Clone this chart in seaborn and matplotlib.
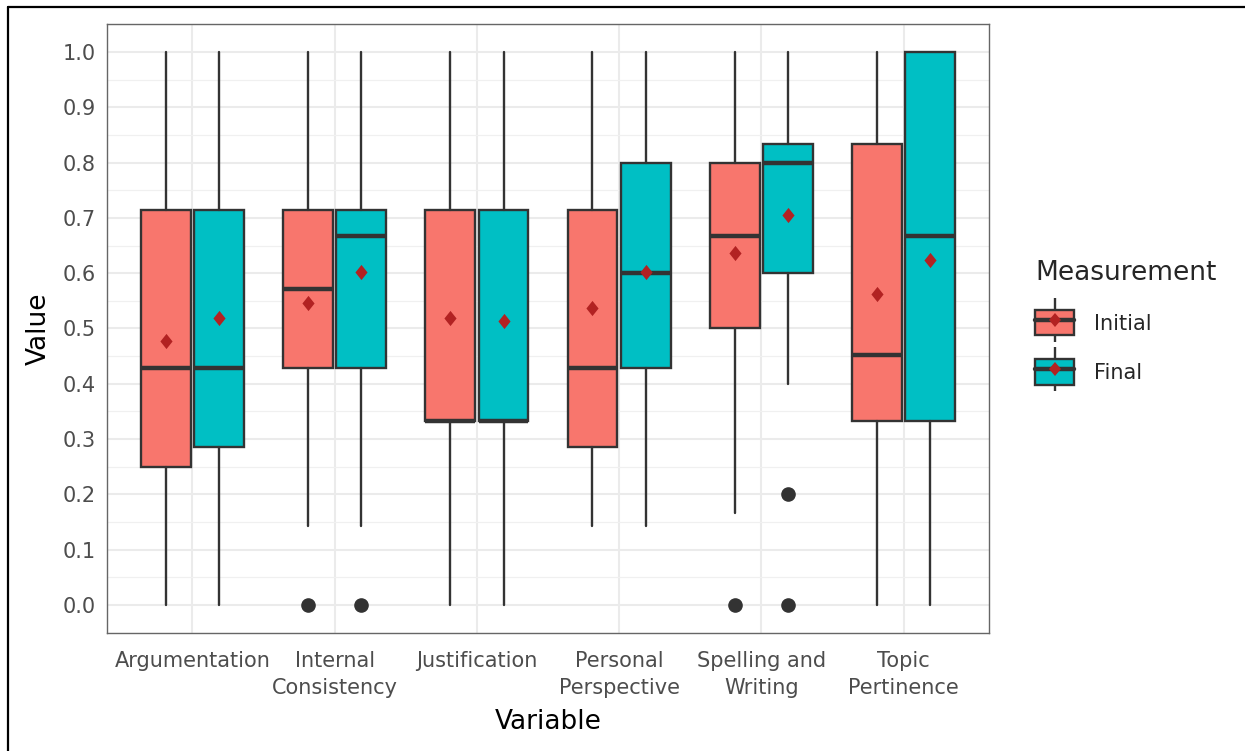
import numpy as np
import pandas as pd
import matplotlib.pyplot as plt
import seaborn as sns
from matplotlib.lines import Line2D
from matplotlib.patches import Patch
from matplotlib.markers import MarkerStyle
from matplotlib.transforms import Affine2D
from matplotlib.legend_handler import HandlerTuple
from matplotlib.ticker import MultipleLocator

variables = ['Argumentation', 'Internal\nConsistency', 'Justification',
             'Personal\nPerspective', 'Spelling and\nWriting', 'Topic\nPertinence']
measurements = ['Initial', 'Final']

# box statistics (one entry per variable)
initial_q1 = [0.25, 0.429, 0.333, 0.286, 0.5, 0.333]
initial_med = [0.429, 0.571, 0.333, 0.429, 0.667, 0.452]
initial_q3 = [0.714, 0.714, 0.714, 0.714, 0.8, 0.833]
initial_low = [0.0, 0.143, 0.0, 0.143, 0.167, 0.0]
initial_high = [1.0, 1.0, 1.0, 1.0, 1.0, 1.0]
initial_mean = [0.478, 0.547, 0.519, 0.537, 0.637, 0.563]
initial_out = [[], [0.0], [], [], [0.0], []]

final_q1 = [0.286, 0.429, 0.333, 0.429, 0.6, 0.333]
final_med = [0.429, 0.667, 0.333, 0.6, 0.8, 0.667]
final_q3 = [0.714, 0.714, 0.714, 0.8, 0.833, 1.0]
final_low = [0.0, 0.143, 0.0, 0.143, 0.4, 0.0]
final_high = [1.0, 1.0, 1.0, 1.0, 1.0, 1.0]
final_mean = [0.519, 0.602, 0.513, 0.602, 0.705, 0.623]
final_out = [[], [0.0], [], [], [0.2, 0.0], []]

palette = {'Initial': '#F8766D', 'Final': '#00BFC4'}
line_col = '#333333'
mean_col = '#B22222'

sns.set_theme(style='white', rc={'axes.facecolor': 'white'})
plt.rcParams['font.family'] = ['DejaVu Sans']

fig = plt.figure(figsize=(12.45, 7.51), dpi=100)
ax = fig.add_axes([0.0859, 0.1577, 0.7085, 0.8098])

groups = {
    'Initial': (initial_q1, initial_med, initial_q3, initial_low, initial_high, initial_mean, initial_out),
    'Final': (final_q1, final_med, final_q3, final_low, final_high, final_mean, final_out),
}
offsets = {'Initial': -0.1875, 'Final': 0.1875}

mean_rows = []
for name, (q1, med, q3, lo, hi, mn, out) in groups.items():
    stats = []
    for i in range(len(variables)):
        stats.append({'q1': q1[i], 'med': med[i], 'q3': q3[i],
                      'whislo': lo[i], 'whishi': hi[i], 'fliers': out[i]})
        mean_rows.append({'pos': i + offsets[name], 'mean': mn[i]})
    pos = np.arange(len(variables)) + offsets[name]
    ax.bxp(stats, positions=pos, widths=0.35, patch_artist=True,
           showcaps=False, manage_ticks=False,
           boxprops=dict(facecolor=palette[name], edgecolor=line_col, linewidth=1.7),
           medianprops=dict(color=line_col, linewidth=3.2, solid_capstyle='butt'),
           whiskerprops=dict(color=line_col, linewidth=1.7),
           flierprops=dict(marker='o', markerfacecolor=line_col,
                           markeredgecolor=line_col, markersize=9.5),
           zorder=3)

diamond = MarkerStyle('D', transform=Affine2D().scale(0.8, 1.0))
means = pd.DataFrame(mean_rows)
sns.scatterplot(data=means, x='pos', y='mean', marker=diamond, s=60,
                color=mean_col, edgecolor=mean_col, linewidth=0, zorder=5,
                legend=False, ax=ax)

# axes, grid, ticks in the ggplot theme_bw look
ax.set_xlim(-0.6, len(variables) - 0.4)
ax.set_ylim(-0.05, 1.05)
ax.set_xticks(range(len(variables)))
ax.set_xticklabels(variables, linespacing=1.45)
ax.yaxis.set_major_locator(MultipleLocator(0.1))
ax.yaxis.set_minor_locator(MultipleLocator(0.05))
ax.yaxis.set_major_formatter(plt.FormatStrFormatter('%.1f'))
ax.grid(True, which='major', color='#EBEBEB', linewidth=1.5)
ax.grid(True, which='minor', axis='y', color='#F0F0F0', linewidth=0.9)
ax.set_axisbelow(True)
ax.tick_params(axis='both', which='major', length=5, width=1.1, color=line_col,
               labelcolor='#4D4D4D', labelsize=15, pad=3)
ax.tick_params(axis='x', which='major', pad=8)
ax.tick_params(axis='y', which='minor', length=0)
for sp in ax.spines.values():
    sp.set_visible(True)
    sp.set_color('#666666')
    sp.set_linewidth(1.0)

ax.set_xlabel('Variable', fontsize=19, color='black', labelpad=8)
ax.set_ylabel('Value', fontsize=19, color='black', labelpad=8)

# legend with boxplot-shaped keys
whisk = Line2D([], [], linestyle='None', marker='|', markersize=31,
               markeredgewidth=1.7, color=line_col)
med_line = Line2D([], [], color=line_col, linewidth=3.2)
mean_key = Line2D([], [], linestyle='None', marker=diamond, markersize=7.5,
                  color=mean_col, markeredgewidth=0)
handles = [(whisk, Patch(facecolor=palette[m], edgecolor=line_col, linewidth=1.7),
            med_line, mean_key) for m in measurements]
fig.legend(handles=handles, labels=measurements,
           handler_map={tuple: HandlerTuple(ndivide=1, pad=0)},
           title='Measurement', loc='upper left',
           bbox_to_anchor=(0.8265, 0.662), frameon=False, fontsize=15,
           title_fontsize=19, handlelength=1.85, handleheight=1.5,
           handletextpad=0.95, labelspacing=1.15, alignment='left',
           borderpad=0.3, borderaxespad=0, numpoints=1)

# thin black frame around the image (top and left edges visible)
fig.add_artist(Line2D([0.0064, 1.0], [0.9907, 0.9907], transform=fig.transFigure,
                      color='black', linewidth=1.6))
fig.add_artist(Line2D([0.0064, 0.0064], [0.0, 0.9907], transform=fig.transFigure,
                      color='black', linewidth=1.6))

fig.savefig('out.png', dpi=100)
